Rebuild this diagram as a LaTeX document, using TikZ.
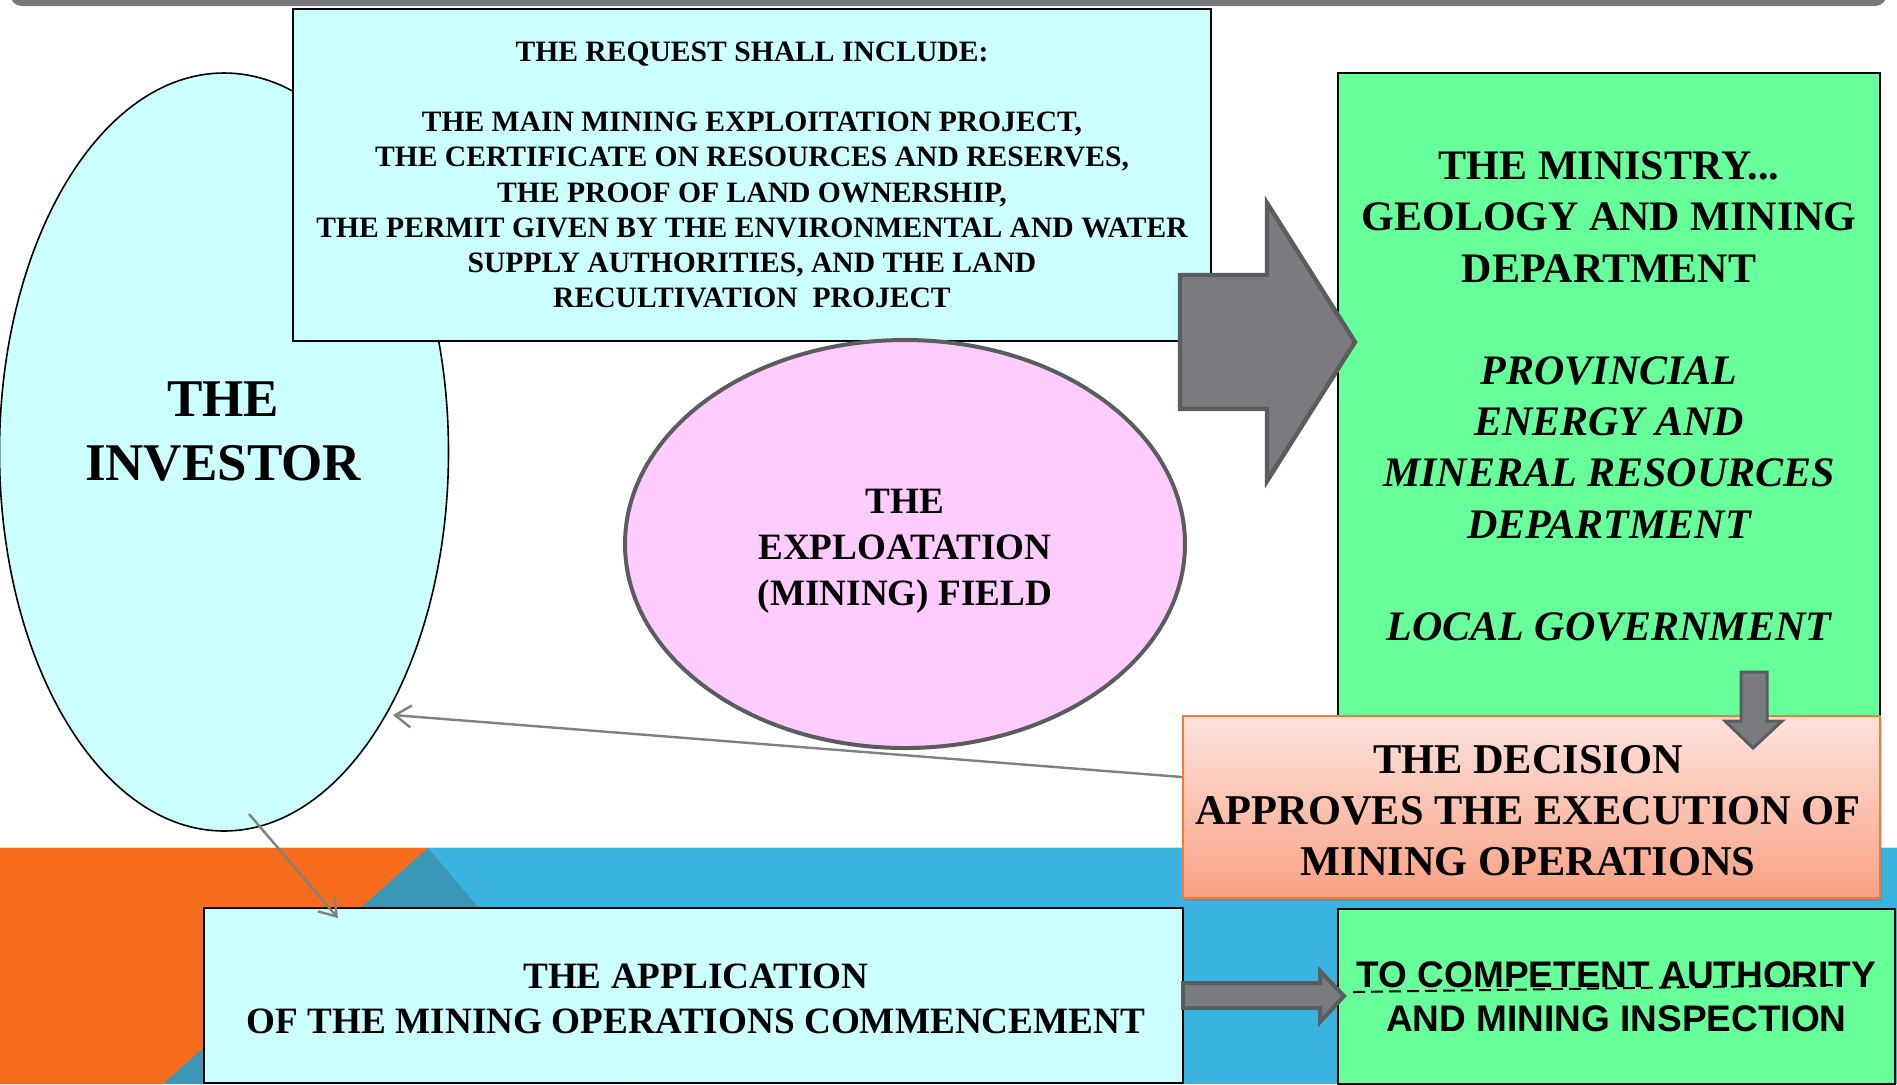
\documentclass[tikz,border=0pt]{standalone}
\usepackage{fontspec}
\setmainfont{Liberation Serif}
\newfontfamily\arialfont{Liberation Sans}
\usetikzlibrary{shapes.geometric,arrows.meta,shadows}
\definecolor{cyanbox}{HTML}{CCFFFF}
\definecolor{greenbox}{HTML}{66FF99}
\definecolor{pinkbox}{HTML}{FFCCFF}
\definecolor{bandblue}{HTML}{3BB3E0}
\definecolor{bandorange}{HTML}{F76B1C}
\definecolor{bandteal}{HTML}{3A97B5}
\definecolor{topgray}{HTML}{77787B}
\definecolor{arrowgray}{HTML}{7A7B7F}
\definecolor{arrowedge}{HTML}{5B5C5E}
\definecolor{linegray}{HTML}{808080}
\definecolor{dectop}{HTML}{FDE3DD}
\definecolor{decbot}{HTML}{F9A184}
\definecolor{decedge}{HTML}{F47A35}
\begin{document}
\begin{tikzpicture}[x=0.5pt,y=-0.5pt,
  box/.style={draw=black, line width=0.8pt, inner sep=0pt, align=center, rectangle},
  label/.style={align=center, inner sep=0pt},
  blockarrow/.style={fill=arrowgray, draw=arrowedge, line join=miter},
  thinarrow/.style={draw=linegray, line width=1.2pt, -{Straight Barb[length=8pt,width=11pt]}}
]
\useasboundingbox (0,0) rectangle (1897,1084);
% background band
\fill[bandblue] (0,848) rectangle (1897,1084);
\fill[bandorange] (0,848) -- (428,848) -- (163,1084) -- (0,1084) -- cycle;
\fill[bandteal] (428,848) -- (628,1084) -- (163,1084) -- cycle;
\draw[color=orange!30, line width=0.5pt] (0,847.5) -- (1897,847.5);
% top bar
\fill[topgray, rounded corners=6pt] (10,-30) rectangle (1887,6);

% investor
\node[ellipse, draw=black, line width=0.8pt, fill=cyanbox, minimum width=224.5pt, minimum height=379pt, inner sep=0pt] (investor) at (224,452) {};
\node[label, font=\fontsize{26.5}{32}\selectfont\bfseries] (invtext) at (223,432) {THE\\INVESTOR};

% request box
\node[box, fill=cyanbox, minimum width=459pt, minimum height=166pt, font=\fontsize{14.8}{17.6}\selectfont\bfseries] (request) at (752,175)
{THE REQUEST SHALL INCLUDE:\\[17.6pt]
THE MAIN MINING EXPLOITATION PROJECT,\\
THE CERTIFICATE ON RESOURCES AND RESERVES,\\
THE PROOF OF LAND OWNERSHIP,\\
THE PERMIT GIVEN BY THE ENVIRONMENTAL AND WATER\\
SUPPLY AUTHORITIES, AND THE LAND\\
RECULTIVATION\ \ PROJECT};

% exploitation field
\node[ellipse, draw=arrowedge, line width=2pt, fill=pinkbox, minimum width=280pt, minimum height=204pt, inner sep=0pt] (field) at (905,544) {};
\node[label, font=\fontsize{18.6}{23}\selectfont\bfseries] (fieldtext) at (905,551)
{THE\\EXPLOATATION\\(MINING) FIELD};

% ministry box
\node[box, fill=greenbox, minimum width=271pt, minimum height=323.5pt, font=\fontsize{21}{25.6}\selectfont\bfseries] (ministry) at (1609,396.5)
{THE MINISTRY...\\
GEOLOGY AND MINING\\
DEPARTMENT\\[25.6pt]
\itshape PROVINCIAL\\
\itshape ENERGY AND\\
\itshape MINERAL RESOURCES\\
\itshape DEPARTMENT\\[25.6pt]
\itshape LOCAL GOVERNMENT};

% big block arrow
\draw[blockarrow, line width=2.2pt] (1180,275) -- (1267,275) -- (1267,203) -- (1355,342) -- (1267,481) -- (1267,409) -- (1180,409) -- cycle;

% decision box
\node[rectangle, draw=decedge, line width=1pt, top color=dectop, bottom color=decbot,
  drop shadow={shadow xshift=1pt, shadow yshift=-1.5pt, opacity=0.3, fill=black!60},
  minimum width=348.5pt, minimum height=91pt, inner sep=0pt] (decision) at (1531.5,807) {};
\node[label, font=\fontsize{21.2}{25.5}\selectfont\bfseries] (decisiontext) at (1528,811)
{THE DECISION\\APPROVES THE EXECUTION OF\\MINING OPERATIONS};

% small down arrow
\draw[blockarrow, line width=1.5pt] (1741,672) -- (1767,672) -- (1767,721) -- (1782,721) -- (1753,748) -- (1725,721) -- (1741,721) -- cycle;

% application box
\node[box, fill=cyanbox, minimum width=489.5pt, minimum height=87.5pt] (application) at (693.5,995.5) {};
\node[label, font=\fontsize{18.6}{22.5}\selectfont\bfseries] (apptext) at (696,998.5)
{THE APPLICATION\\OF THE MINING OPERATIONS COMMENCEMENT};

% competent authority box
\node[box, fill=greenbox, minimum width=278.5pt, minimum height=87.5pt, font=\arialfont\fontsize{18.5}{22}\selectfont\bfseries] (competent) at (1616.5,996.5)
{TO COMPETENT AUTHORITY\\AND MINING INSPECTION};

% bottom block arrow
\draw[blockarrow, line width=2pt] (1183,983) -- (1320,983) -- (1320,971) -- (1344,996) -- (1320,1022) -- (1320,1008) -- (1183,1008) -- cycle;

% dashed line
\coordinate (d1) at (1353,992);
\coordinate (d2) at (1838,985);
\draw[black, line width=1pt, dash pattern=on 6pt off 3pt] (d1) -- (d2);

% thin connectors
\coordinate (invin) at (393,715);
\draw[thinarrow] ([yshift=15pt]decision.west) -- (invin);
\coordinate (invbot) at (249,814);
\coordinate (appin) at (338,918);
\draw[thinarrow] (invbot) -- (appin);
\end{tikzpicture}
\end{document}
